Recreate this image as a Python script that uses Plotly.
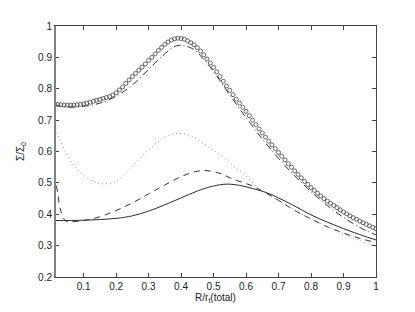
import plotly.graph_objects as go

# radius grid for the circle series (one marker every 0.01)
r_circ = [round(0.01 * i, 2) for i in range(1, 101)]
sigma_circ = [
    0.752, 0.750, 0.749, 0.748, 0.748, 0.748, 0.748, 0.749, 0.750, 0.752,
    0.754, 0.757, 0.760, 0.763, 0.766, 0.769, 0.772, 0.775, 0.780, 0.787,
    0.796, 0.806, 0.817, 0.828, 0.839, 0.849, 0.859, 0.869, 0.879, 0.890,
    0.900, 0.911, 0.922, 0.932, 0.941, 0.949, 0.955, 0.959, 0.961, 0.960,
    0.958, 0.953, 0.947, 0.940, 0.931, 0.920, 0.908, 0.895, 0.882, 0.868,
    0.854, 0.839, 0.824, 0.809, 0.795, 0.781, 0.767, 0.754, 0.741, 0.728,
    0.714, 0.700, 0.686, 0.672, 0.659, 0.646, 0.633, 0.621, 0.609, 0.597,
    0.585, 0.573, 0.561, 0.550, 0.538, 0.527, 0.516, 0.505, 0.495, 0.485,
    0.476, 0.467, 0.458, 0.450, 0.442, 0.435, 0.428, 0.421, 0.414, 0.407,
    0.401, 0.395, 0.389, 0.384, 0.378, 0.373, 0.368, 0.363, 0.358, 0.354,
]

r_dashdot = [0.01, 0.03, 0.06, 0.10, 0.15, 0.20, 0.25, 0.30, 0.34, 0.37, 0.39,
             0.41, 0.44, 0.47, 0.50, 0.55, 0.60, 0.65, 0.70, 0.75, 0.80, 0.85,
             0.90, 0.95, 1.00]
sigma_dashdot = [0.750, 0.744, 0.741, 0.744, 0.754, 0.776, 0.812, 0.862, 0.902,
                 0.928, 0.938, 0.937, 0.925, 0.893, 0.855, 0.780, 0.708, 0.640,
                 0.578, 0.522, 0.472, 0.428, 0.390, 0.358, 0.334]

r_dot = [0.01, 0.03, 0.05, 0.075, 0.10, 0.13, 0.165, 0.20, 0.25, 0.30, 0.35,
         0.39, 0.43, 0.47, 0.52, 0.56, 0.60, 0.645, 0.70, 0.75, 0.80, 0.85,
         0.90, 0.95, 1.00]
sigma_dot = [0.686, 0.630, 0.588, 0.550, 0.524, 0.505, 0.497, 0.505, 0.553,
             0.605, 0.645, 0.658, 0.650, 0.625, 0.590, 0.555, 0.521, 0.477,
             0.443, 0.413, 0.385, 0.360, 0.337, 0.316, 0.297]

r_dash = [0.01, 0.02, 0.03, 0.045, 0.06, 0.10, 0.15, 0.20, 0.25, 0.30, 0.35,
          0.40, 0.45, 0.48, 0.52, 0.56, 0.62, 0.68, 0.75, 0.80, 0.85, 0.90,
          0.95, 1.00]
sigma_dash = [0.525, 0.470, 0.410, 0.378, 0.376, 0.380, 0.392, 0.412, 0.436,
              0.465, 0.493, 0.520, 0.537, 0.539, 0.530, 0.512, 0.490, 0.457,
              0.412, 0.385, 0.360, 0.340, 0.323, 0.310]

r_solid = [0.01, 0.10, 0.20, 0.25, 0.30, 0.35, 0.40, 0.45, 0.50, 0.54, 0.58,
           0.62, 0.66, 0.70, 0.75, 0.80, 0.85, 0.90, 0.95, 1.00]
sigma_solid = [0.380, 0.381, 0.387, 0.395, 0.410, 0.430, 0.452, 0.474, 0.490,
               0.496, 0.492, 0.482, 0.470, 0.452, 0.426, 0.398, 0.375, 0.354,
               0.335, 0.318]

x_ticks = [0.1, 0.2, 0.3, 0.4, 0.5, 0.6, 0.7, 0.8, 0.9, 1.0]
x_labels = ['0.1', '0.2', '0.3', '0.4', '0.5', '0.6', '0.7', '0.8', '0.9', '1']
y_ticks = [0.2, 0.3, 0.4, 0.5, 0.6, 0.7, 0.8, 0.9, 1.0]
y_labels = ['0.2', '0.3', '0.4', '0.5', '0.6', '0.7', '0.8', '0.9', '1']

fig = go.Figure()

fig.add_trace(go.Scatter(x=r_solid, y=sigma_solid, mode='lines', line_shape='spline',
                         line=dict(color='#2a2a2a', width=1)))
fig.add_trace(go.Scatter(x=r_dash, y=sigma_dash, mode='lines', line_shape='spline',
                         line=dict(color='#333333', width=1, dash='6px,5px')))
fig.add_trace(go.Scatter(x=r_dot, y=sigma_dot, mode='lines', line_shape='spline',
                         line=dict(color='#888888', width=1, dash='1px,3px')))
fig.add_trace(go.Scatter(x=r_dashdot, y=sigma_dashdot, mode='lines', line_shape='spline',
                         line=dict(color='#333333', width=1, dash='7px,3px,1px,3px')))
fig.add_trace(go.Scatter(x=r_circ, y=sigma_circ, mode='markers',
                         marker=dict(symbol='circle-open', size=4, color='#444444',
                                     line=dict(width=0.8, color='#444444'))))

axis_font = dict(family='Liberation Sans, Arial, sans-serif', size=10, color='#222222')

fig.update_xaxes(
    range=[0.012, 1.0], tickvals=x_ticks, ticktext=x_labels,
    ticks='inside', ticklen=4, tickcolor='#444444', mirror='ticks',
    showline=True, linecolor='#444444', linewidth=1, showgrid=False, zeroline=False,
    tickfont=axis_font,
    title=dict(text='R/r<sub>t</sub>(total)', font=axis_font, standoff=1),
)
fig.update_yaxes(
    range=[0.2, 1.0], tickvals=y_ticks, ticktext=y_labels,
    ticks='inside', ticklen=4, tickcolor='#444444', mirror='ticks',
    showline=True, linecolor='#444444', linewidth=1, showgrid=False, zeroline=False,
    tickfont=axis_font,
    title=dict(text='Σ/Σ<sub>0</sub>', font=axis_font, standoff=11),
)

# the left frame edge is drawn heavier and grey in the original
fig.add_shape(type='line', xref='paper', yref='paper', x0=0, x1=0, y0=0, y1=1,
              line=dict(color='#808080', width=2))

# page body adds an 8px offset, so the figure is 8px smaller on each side
fig.update_layout(
    width=407, height=304,
    margin=dict(l=46, r=39, t=16, b=35),
    paper_bgcolor='white', plot_bgcolor='white',
    showlegend=False,
)

fig.write_html("out.html")
